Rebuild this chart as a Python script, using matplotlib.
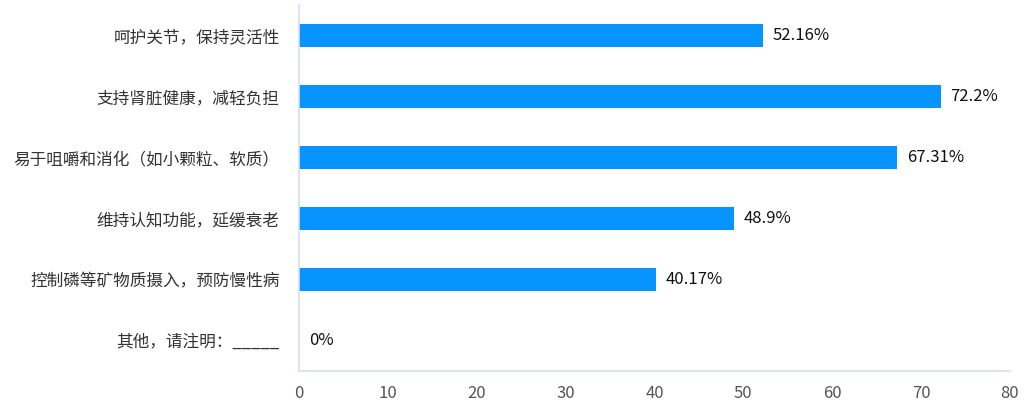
import matplotlib
matplotlib.use("Agg")
import matplotlib.pyplot as plt

plt.rcParams['font.family'] = ['Noto Sans CJK SC', 'DejaVu Sans']

categories = [
    "呵护关节，保持灵活性",
    "支持肾脏健康，减轻负担",
    "易于咀嚼和消化（如小颗粒、软质）",
    "维持认知功能，延缓衰老",
    "控制磷等矿物质摄入，预防慢性病",
    "其他，请注明：_____",
]
values = [52.16, 72.2, 67.31, 48.9, 40.17, 0]
value_labels = ["52.16%", "72.2%", "67.31%", "48.9%", "40.17%", "0%"]
xticks = [0, 10, 20, 30, 40, 50, 60, 70, 80]

fig = plt.figure(figsize=(10.24, 4.07), dpi=100)
ax = fig.add_axes([299/1024, 36/407, 711/1024, 366/407])

ypos = list(range(len(categories)))
ax.barh(ypos, values, height=0.39, color='#0894ff')
ax.set_ylim(len(categories) - 0.5, -0.5)
ax.set_xlim(0, 80)
ax.set_xticks(xticks)
ax.set_xticklabels([str(t) for t in xticks], fontsize=12, color='#555555')
ax.set_yticks(ypos)
ax.set_yticklabels(categories, fontsize=12, color='#333333')
ax.tick_params(axis='y', length=0, pad=14)
ax.tick_params(axis='x', length=0, pad=10)

for y, v, lab in zip(ypos, values, value_labels):
    ax.annotate(lab, xy=(v, y), xytext=(7, 0), textcoords='offset points',
                va='center', ha='left', fontsize=12, color='#111111')

for s in ['top', 'right']:
    ax.spines[s].set_visible(False)
ax.spines['left'].set_color('#d6e0ec')
ax.spines['bottom'].set_color('#d6e0ec')
ax.spines['left'].set_linewidth(1.2)
ax.spines['bottom'].set_linewidth(1.2)

fig.savefig('out.png', dpi=100)
